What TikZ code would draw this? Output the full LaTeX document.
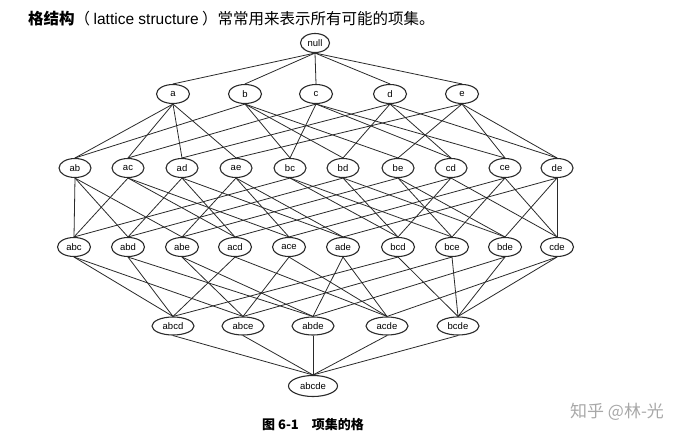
\documentclass[tikz,border=0pt]{standalone}
\usepackage{fontspec}
\setmainfont{Liberation Sans}
\newfontfamily\cjk{Noto Sans CJK SC}
\usepackage{xcolor}
\usetikzlibrary{positioning, shapes.geometric}

\definecolor{inkgray}{HTML}{2A2A2A}
\definecolor{markgray}{HTML}{A8A8A8}

\begin{document}
\begin{tikzpicture}[
    x=1pt, y=-1pt,
    set/.style={
        ellipse,
        draw=inkgray,
        line width=1.1pt,
        inner sep=0pt,
        minimum height=19pt,
        font=\fontsize{9.5}{10}\selectfont,
        fill=white
    },
    edge/.style={
        draw=inkgray,
        line width=0.8pt
    }
]
\useasboundingbox (0,0) rectangle (692,447);

% Title line
\node (title) at (28,19) [anchor=west, inner sep=0pt, font=\cjk\fontsize{15.5}{17}\selectfont] {{\bfseries 格结构}（ {\fontspec{Liberation Sans}lattice structure} ）常常用来表示所有可能的项集。};

% Top (empty set)
\node (null) at (315,43) [set, minimum width=29pt] {null};

% One item
\node (a) at (173,94) [set, minimum width=33pt] {a};
\node (b) at (245,94) [set, minimum width=33pt] {b};
\node (c) at (316,94) [set, minimum width=33pt] {c};
\node (d) at (390,94) [set, minimum width=33pt] {d};
\node (e) at (462,94) [set, minimum width=33pt] {e};

% Two items
\node (ab) at (75,168) [set, minimum width=32pt] {ab};
\node (ac) at (128,168) [set, minimum width=32pt] {ac};
\node (ad) at (182,168) [set, minimum width=32pt] {ad};
\node (ae) at (236,168) [set, minimum width=32pt] {ae};
\node (bc) at (290,168) [set, minimum width=32pt] {bc};
\node (bd) at (343,168) [set, minimum width=32pt] {bd};
\node (be) at (398,168) [set, minimum width=32pt] {be};
\node (cd) at (451,168) [set, minimum width=32pt] {cd};
\node (ce) at (505,168) [set, minimum width=32pt] {ce};
\node (de) at (557,168) [set, minimum width=32pt] {de};

% Three items
\node (abc) at (74,247) [set, minimum width=33pt] {abc};
\node (abd) at (128,247) [set, minimum width=33pt] {abd};
\node (abe) at (182,247) [set, minimum width=33pt] {abe};
\node (acd) at (235,247) [set, minimum width=33pt] {acd};
\node (ace) at (289,247) [set, minimum width=33pt] {ace};
\node (ade) at (343,247) [set, minimum width=33pt] {ade};
\node (bcd) at (398,247) [set, minimum width=33pt] {bcd};
\node (bce) at (452,247) [set, minimum width=33pt] {bce};
\node (bde) at (505,247) [set, minimum width=33pt] {bde};
\node (cde) at (557,247) [set, minimum width=33pt] {cde};

% Four items
\node (abcd) at (173,326) [set, minimum width=42pt, minimum height=18pt] {abcd};
\node (abce) at (243,326) [set, minimum width=42pt, minimum height=18pt] {abce};
\node (abde) at (313,326) [set, minimum width=42pt, minimum height=18pt] {abde};
\node (acde) at (387,326) [set, minimum width=42pt, minimum height=18pt] {acde};
\node (bcde) at (458,326) [set, minimum width=42pt, minimum height=18pt] {bcde};

% All five
\node (abcde) at (313,386) [set, minimum width=49pt, minimum height=21pt] {abcde};

% Caption and mark
\node (caption) at (313,425) [font=\cjk\bfseries\fontsize{13}{15}\selectfont] {图 6-1\quad 项集的格};
\node (mark) at (617,412) [text=markgray, font=\cjk\fontsize{17}{19}\selectfont] {知乎 @林-光};

% Edges (lower set / its parents)
\foreach \child/\parents in {
    a/null, b/null, c/null, d/null, e/null,
    ab/{a,b}, ac/{a,c}, ad/{a,d}, ae/{a,e}, bc/{b,c},
    bd/{b,d}, be/{b,e}, cd/{c,d}, ce/{c,e}, de/{d,e},
    abc/{ab,ac,bc}, abd/{ab,ad,bd}, abe/{ab,ae,be}, acd/{ac,ad,cd}, ace/{ac,ae,ce},
    ade/{ad,ae,de}, bcd/{bc,bd,cd}, bce/{bc,be,ce}, bde/{bd,be,de}, cde/{cd,ce,de},
    abcd/{abc,abd,acd,bcd}, abce/{abc,abe,ace,bce}, abde/{abd,abe,ade,bde},
    acde/{acd,ace,ade,cde}, bcde/{bcd,bce,bde,cde},
    abcde/{abcd,abce,abde,acde,bcde}}
    \foreach \p in \parents
        \draw [edge] (\p.south) -- (\child.north);

\end{tikzpicture}
\end{document}
